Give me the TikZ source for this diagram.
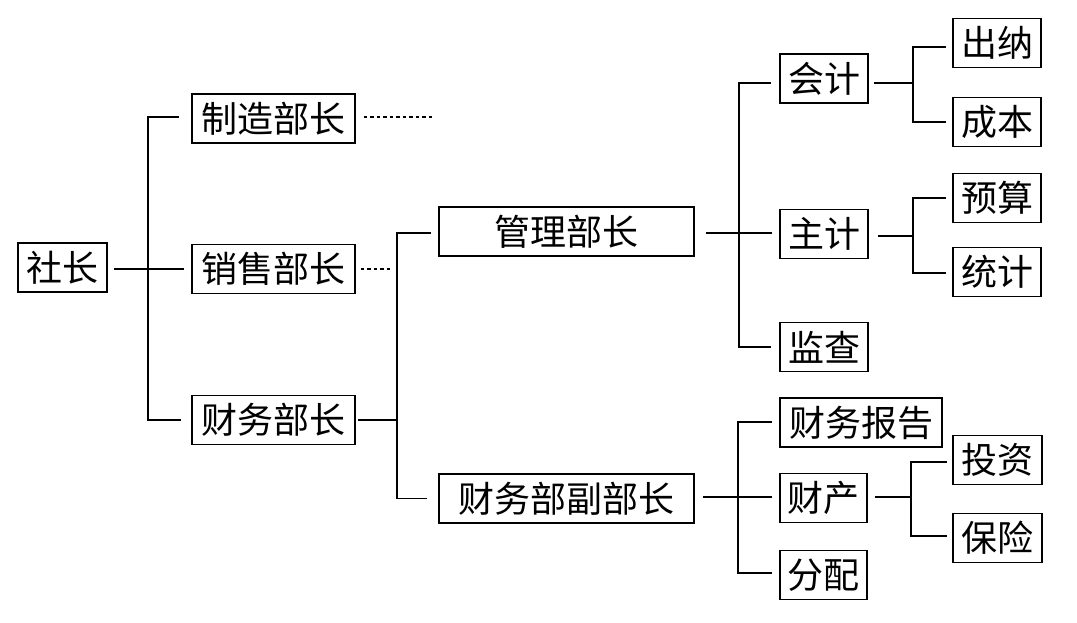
\documentclass[tikz,border=0pt]{standalone}
\usepackage{fontspec}
\newfontfamily\cjk{Noto Sans CJK SC}
\begin{document}
\begin{tikzpicture}[x=1pt,y=-1pt,
  box/.style={draw,line width=1.6pt,inner sep=0pt,minimum height=49pt,font=\cjk\fontsize{36}{36}\selectfont},
  w2/.style={box,minimum width=88pt},
  w4/.style={box,minimum width=163pt},
  w6/.style={box,minimum width=255pt},
  conn/.style={line width=1.8pt},
  dots/.style={line width=1.6pt,dash pattern=on 3.5pt off 3pt}]
\useasboundingbox (0,0) rectangle (1077,622);
% nodes
\node[w2,minimum width=89pt] (she) at (62.5,267.5) {社长};
\node[w4] (zhizao) at (273.5,118.5) {制造部长};
\node[w4] (xiaoshou) at (273.5,269) {销售部长};
\node[w4] (caiwu) at (273.5,420) {财务部长};
\node[w6] (guanli) at (566.5,231.5) {管理部长};
\node[w6] (fubu) at (566.5,498.5) {财务部副部长};
\node[w2] (kuaiji) at (824,78.5) {会计};
\node[w2] (zhuji) at (824,234) {主计};
\node[w2] (jiancha) at (824,347) {监查};
\node[w2] (chuna) at (997,43) {出纳};
\node[w2] (chengben) at (997,122) {成本};
\node[w2] (yusuan) at (997,198) {预算};
\node[w2] (tongji) at (997,272) {统计};
\node[box,minimum width=162pt] (baogao) at (861,422.5) {财务报告};
\node[box,minimum width=87pt] (caichan) at (823.5,498) {财产};
\node[box,minimum width=87pt] (fenpei) at (823.5,575) {分配};
\node[box,minimum width=89pt] (touzi) at (997.5,460) {投资};
\node[box,minimum width=89pt] (baoxian) at (997.5,538) {保险};
% trunk coordinates
\coordinate (t1) at (148,0);
\coordinate (t2) at (397,0);
\coordinate (t3) at (739,0);
\coordinate (t4) at (738,0);
\coordinate (t5) at (913,0);
\coordinate (t6) at (913,0);
\coordinate (t7) at (911,0);
% level 1
\draw[conn] ([xshift=6pt,yshift=-1.5pt]she.east) -- ([xshift=-7pt,yshift=-1.5pt]she.east -| xiaoshou.west);
\draw[conn] ([xshift=-12pt,yshift=1.5pt]zhizao.west) -- ([yshift=1.5pt]zhizao.west -| t1) -- (caiwu.west -| t1) -- ([xshift=-10pt]caiwu.west);
% dotted
\coordinate (d1) at (432,117);
\coordinate (d2) at (392,269);
\draw[dots] ([xshift=8pt,yshift=1.5pt]zhizao.east) -- (d1);
\draw[dots] ([xshift=5pt]xiaoshou.east) -- (d2);
% level 2
\draw[conn] ([xshift=2pt]caiwu.east) -- (caiwu.east -| t2);
\draw[conn] ([xshift=-7pt,yshift=-1.5pt]guanli.west) -- ([yshift=-1.5pt]guanli.west -| t2) -- (fubu.west -| t2) -- ([xshift=-11pt]fubu.west);
% level 3 (guanli)
\draw[conn] ([xshift=11pt,yshift=-1.5pt]guanli.east) -- ([xshift=-7pt,yshift=-1.5pt]guanli.east -| zhuji.west);
\draw[conn] ([xshift=-8pt,yshift=-4.5pt]kuaiji.west) -- ([yshift=-4.5pt]kuaiji.west -| t3) -- (jiancha.west -| t3) -- ([xshift=-8pt]jiancha.west);
% level 3 (fubu)
\draw[conn] ([xshift=8pt,yshift=1.5pt]fubu.east) -- ([xshift=-7pt,yshift=1.5pt]fubu.east -| caichan.west);
\draw[conn] ([xshift=-7pt,yshift=0.5pt]baogao.west) -- ([yshift=0.5pt]baogao.west -| t4) -- ([yshift=2pt]fenpei.west -| t4) -- ([xshift=-7pt,yshift=2pt]fenpei.west);
% level 4
\draw[conn] ([xshift=5pt,yshift=-4.5pt]kuaiji.east) -- ([yshift=-4.5pt]kuaiji.east -| t5);
\draw[conn] ([xshift=-6pt,yshift=-4pt]chuna.west) -- ([yshift=-4pt]chuna.west -| t5) -- (chengben.west -| t5) -- ([xshift=-6pt]chengben.west);
\draw[conn] ([xshift=9pt,yshift=-2pt]zhuji.east) -- ([yshift=-2pt]zhuji.east -| t6);
\draw[conn] ([xshift=-6pt]yusuan.west) -- (yusuan.west -| t6) -- ([yshift=-1pt]tongji.west -| t6) -- ([xshift=-6pt,yshift=-1pt]tongji.west);
\draw[conn] ([xshift=7pt,yshift=1pt]caichan.east) -- ([yshift=1pt]caichan.east -| t7);
\draw[conn] ([xshift=-5pt,yshift=-2pt]touzi.west) -- ([yshift=-2pt]touzi.west -| t7) -- ([yshift=2pt]baoxian.west -| t7) -- ([xshift=-5pt,yshift=2pt]baoxian.west);
\end{tikzpicture}
\end{document}
